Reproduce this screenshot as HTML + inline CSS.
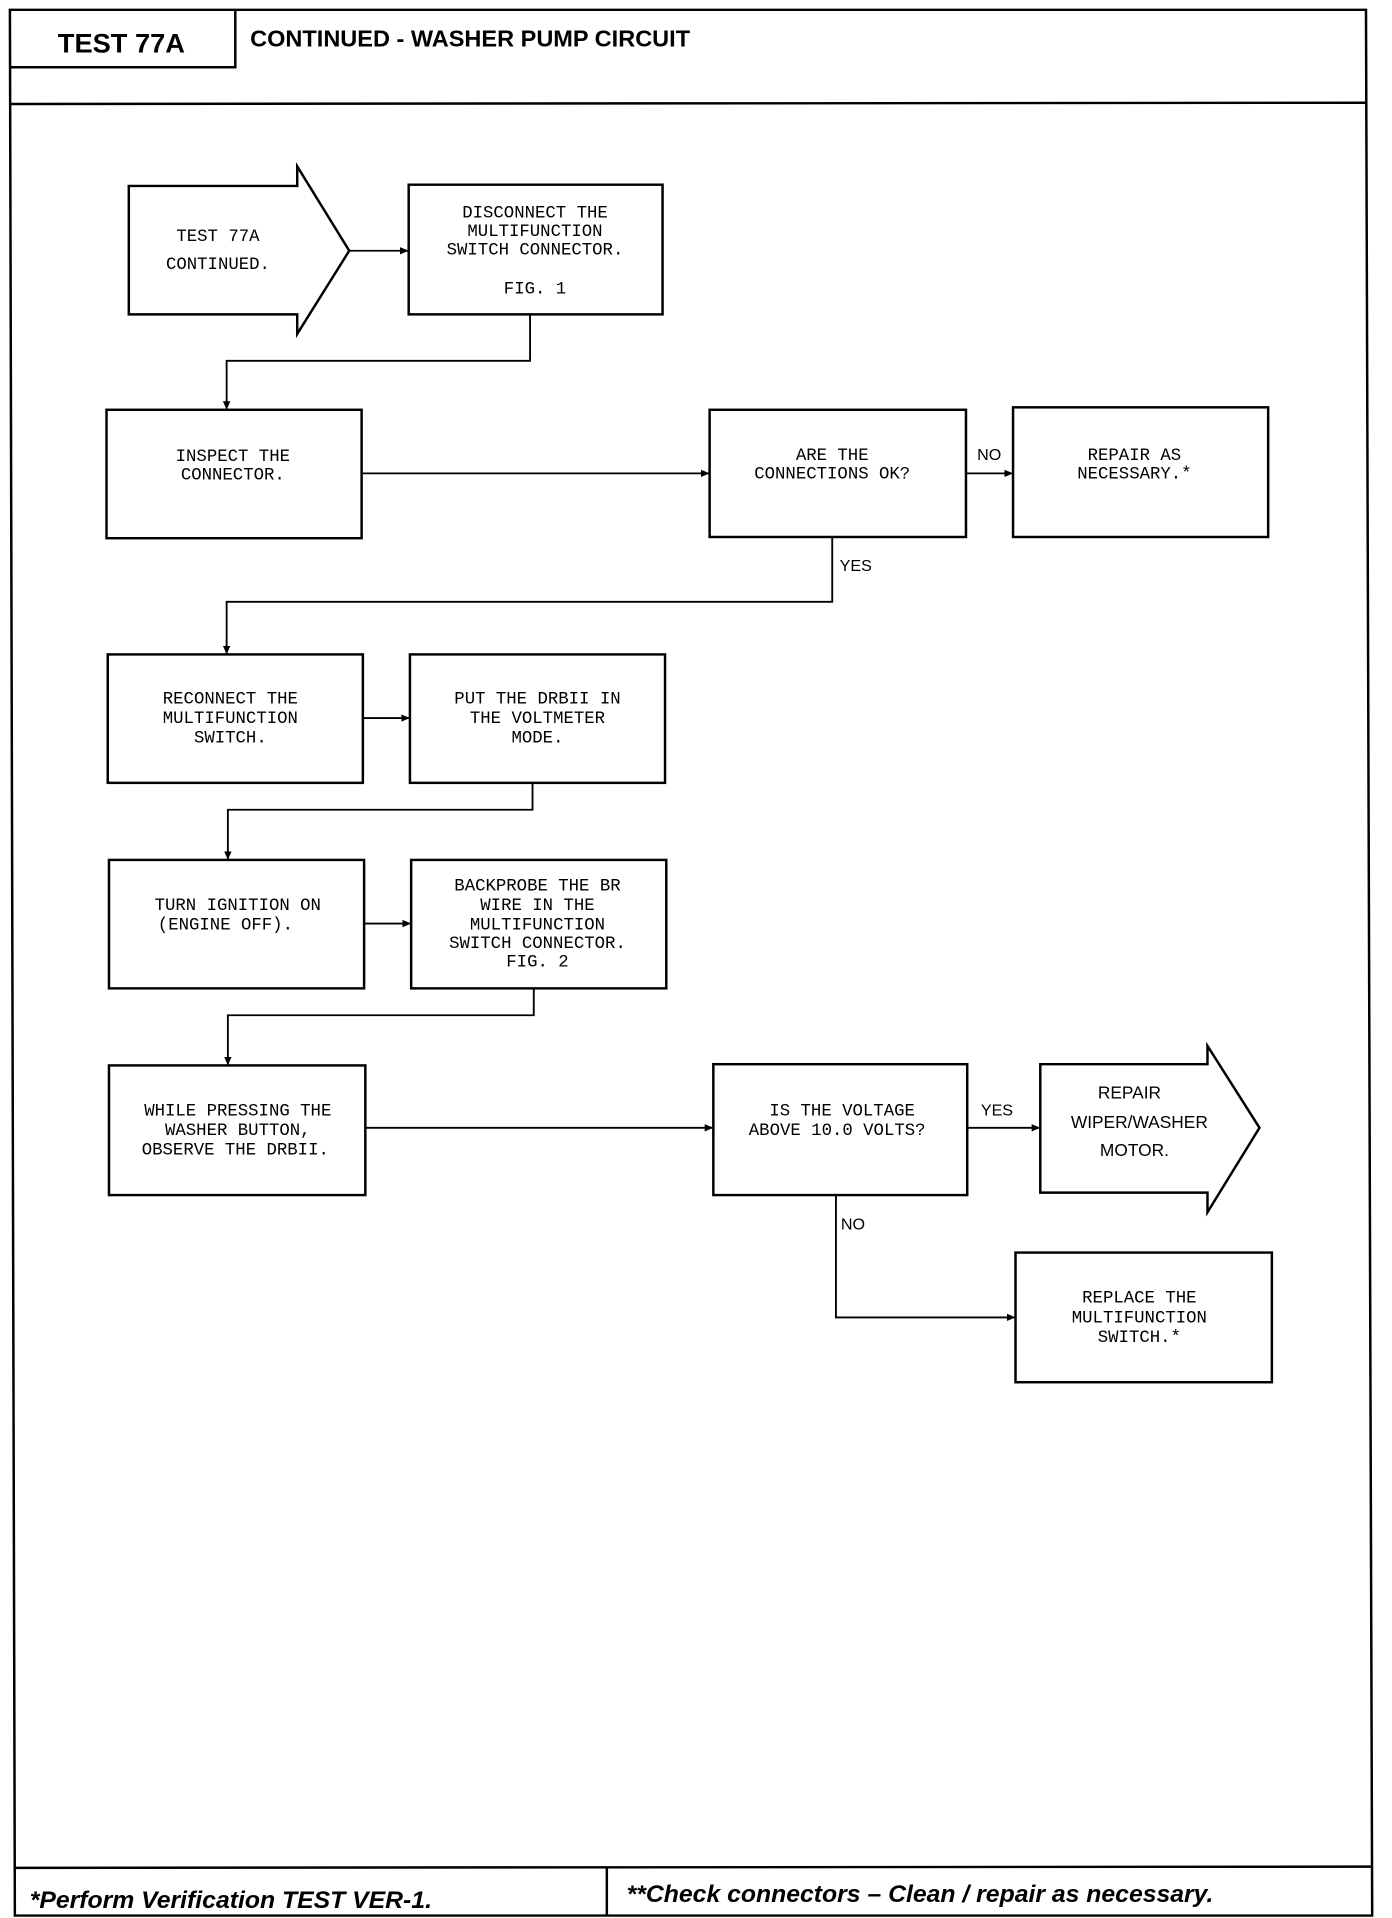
<!DOCTYPE html>
<html><head><meta charset="utf-8"><style>
html,body{margin:0;padding:0;background:#fff;}
svg{display:block;}
.t{font-family:"Liberation Mono",monospace;font-size:14px;fill:#000;text-anchor:middle;}
.s{font-family:"Liberation Sans",sans-serif;font-size:14px;fill:#000;text-anchor:middle;}
.l{font-family:"Liberation Sans",sans-serif;font-size:13px;fill:#000;}
</style></head><body>
<svg width="1392" height="1918" viewBox="0 0 1124 1568" preserveAspectRatio="none" xmlns="http://www.w3.org/2000/svg">
<defs><marker id="a" markerWidth="8" markerHeight="8" refX="7" refY="4" orient="auto" markerUnits="userSpaceOnUse"><path d="M0,1 L7,4 L0,7 z" fill="#000"/></marker></defs>
<g fill="none" stroke="#000" stroke-width="2">
<path d="M8,8 L1103,8 L1108,1566 L12,1566 Z"/>
<path d="M8,55 L190,55 L190,8"/>
<path d="M9,85 L1104,84"/>
<path d="M12,1527 L1107,1526"/>
<path d="M490,1527 L490,1566"/>
<path d="M104,152 L240,152 L240,136 L282,205 L240,273 L240,257 L104,257 Z"/>
<rect x="330" y="151" width="205" height="106"/>
<rect x="86" y="335" width="206" height="105"/>
<rect x="573" y="335" width="207" height="104"/>
<rect x="818" y="333" width="206" height="106"/>
<rect x="87" y="535" width="206" height="105"/>
<rect x="331" y="535" width="206" height="105"/>
<rect x="88" y="703" width="206" height="105"/>
<rect x="332" y="703" width="206" height="105"/>
<rect x="88" y="871" width="207" height="106"/>
<rect x="576" y="870" width="205" height="107"/>
<path d="M840,870 L975,870 L975,855 L1017,922 L975,991 L975,975 L840,975 Z"/>
<rect x="820" y="1024" width="207" height="106"/>
</g>
<g fill="none" stroke="#000" stroke-width="1.5" marker-end="url(#a)">
<path d="M282,205 L330,205"/>
<path d="M428,257 L428,295 L183,295 L183,335"/>
<path d="M292,387 L573,387"/>
<path d="M780,387 L818,387"/>
<path d="M672,439 L672,492 L183,492 L183,535"/>
<path d="M293,587 L331,587"/>
<path d="M430,640 L430,662 L184,662 L184,703"/>
<path d="M294,755 L332,755"/>
<path d="M431,808 L431,830 L184,830 L184,871"/>
<path d="M295,922 L576,922"/>
<path d="M781,922 L840,922"/>
<path d="M675,977 L675,1077 L820,1077"/>
</g>
<text x="98" y="43" class="s" style="font-size:22px;font-weight:bold">TEST 77A</text>
<text x="202" y="38" style="font-family:'Liberation Sans',sans-serif;font-size:19px;font-weight:bold">CONTINUED - WASHER PUMP CIRCUIT</text>
<text x="176" y="197" class="t">TEST 77A</text>
<text x="176" y="220" class="t">CONTINUED.</text>
<text x="432" y="178" class="t">DISCONNECT THE</text>
<text x="432" y="193" class="t">MULTIFUNCTION</text>
<text x="432" y="208" class="t">SWITCH CONNECTOR.</text>
<text x="432" y="240" class="t">FIG. 1</text>
<text x="188" y="377" class="t">INSPECT THE</text>
<text x="188" y="392" class="t">CONNECTOR.</text>
<text x="672" y="376" class="t">ARE THE</text>
<text x="672" y="391" class="t">CONNECTIONS OK?</text>
<text x="789" y="376" class="l">NO</text>
<text x="916" y="376" class="t">REPAIR AS</text>
<text x="916" y="391" class="t">NECESSARY.*</text>
<text x="678" y="467" class="l">YES</text>
<text x="186" y="575" class="t">RECONNECT THE</text>
<text x="186" y="591" class="t">MULTIFUNCTION</text>
<text x="186" y="607" class="t">SWITCH.</text>
<text x="434" y="575" class="t">PUT THE DRBII IN</text>
<text x="434" y="591" class="t">THE VOLTMETER</text>
<text x="434" y="607" class="t">MODE.</text>
<text x="192" y="744" class="t">TURN IGNITION ON</text>
<text x="182" y="760" class="t">(ENGINE OFF).</text>
<text x="434" y="728" class="t">BACKPROBE THE BR</text>
<text x="434" y="744" class="t">WIRE IN THE</text>
<text x="434" y="760" class="t">MULTIFUNCTION</text>
<text x="434" y="775" class="t">SWITCH CONNECTOR.</text>
<text x="434" y="790" class="t">FIG. 2</text>
<text x="192" y="912" class="t">WHILE PRESSING THE</text>
<text x="192" y="928" class="t">WASHER BUTTON,</text>
<text x="190" y="944" class="t">OBSERVE THE DRBII.</text>
<text x="680" y="912" class="t">IS THE VOLTAGE</text>
<text x="676" y="928" class="t">ABOVE 10.0 VOLTS?</text>
<text x="792" y="912" class="l">YES</text>
<text x="912" y="898" class="s">REPAIR</text>
<text x="920" y="922" class="s">WIPER/WASHER</text>
<text x="916" y="945" class="s">MOTOR.</text>
<text x="679" y="1005" class="l">NO</text>
<text x="920" y="1065" class="t">REPLACE THE</text>
<text x="920" y="1081" class="t">MULTIFUNCTION</text>
<text x="920" y="1097" class="t">SWITCH.*</text>
<text x="24" y="1560" style="font-family:'Liberation Sans',sans-serif;font-size:20px;font-weight:bold;font-style:italic">*Perform Verification TEST VER-1.</text>
<text x="506" y="1555" style="font-family:'Liberation Sans',sans-serif;font-size:20px;font-weight:bold;font-style:italic">**Check connectors – Clean / repair as necessary.</text>
</svg>
</body></html>
